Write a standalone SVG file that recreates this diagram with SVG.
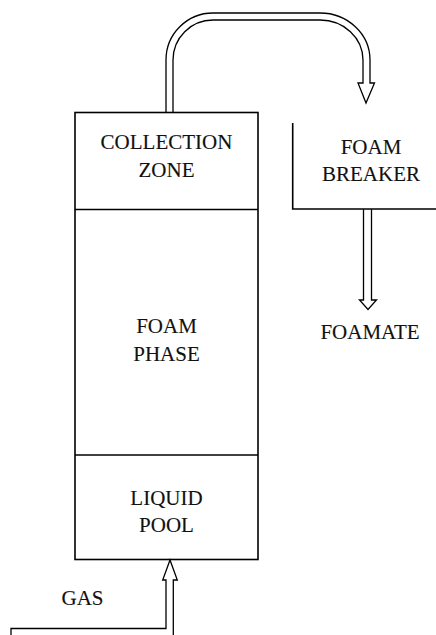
<svg xmlns="http://www.w3.org/2000/svg" width="436" height="635" viewBox="0 0 436 635">
<style>
.ln{fill:none;stroke:#000;stroke-width:1.6}
.pipe{fill:#fff;stroke:#000;stroke-width:1.3;stroke-linejoin:miter}
.t{font-family:'Liberation Serif','Times New Roman',serif;font-size:21px;fill:#111;stroke:#111;stroke-width:0.12;text-anchor:middle}
</style>
<rect width="436" height="635" fill="#fff"/>
<g id="connectors">
<path class="pipe" d="M166,112.5 L166,60 A47,47 0 0 1 213,13 L320,13 A50,47 0 0 1 370,60 L370,83 L374.5,83 L366,103 L358,83 L363,83 L363,60 A43,40 0 0 0 320,20 L213,20 A40,40 0 0 0 173,60 L173,112.5"/>
<path class="pipe" d="M363.5,209 L363.5,300 L359.5,300 L368,309.5 L376.5,300 L371.5,300 L371.5,209"/>
<path class="pipe" d="M173.3,636 L173.3,580 L177.3,580 L170,560 L162.7,580 L166,580 L166,628.5 L11,628.5 L11,636"/>
</g>
<g id="column">
<rect class="ln" x="75" y="112.5" width="183" height="447"/>
</g>
<g id="collection-zone">
<line class="ln" x1="75" y1="209.5" x2="258" y2="209.5"/>
<text class="t" x="166.5" y="148.5">COLLECTION</text>
<text class="t" x="166.5" y="177">ZONE</text>
</g>
<g id="foam-phase">
<text class="t" x="166.5" y="332.5">FOAM</text>
<text class="t" x="166.5" y="361">PHASE</text>
</g>
<g id="liquid-pool">
<line class="ln" x1="75" y1="455" x2="258" y2="455"/>
<text class="t" x="166.5" y="504.5">LIQUID</text>
<text class="t" x="166.5" y="532">POOL</text>
</g>
<g id="foam-breaker">
<path class="ln" d="M292.7,123 L292.7,209 L436,209"/>
<text class="t" x="371" y="153.5">FOAM</text>
<text class="t" x="371" y="181">BREAKER</text>
</g>
<g id="foamate">
<text class="t" x="370" y="338.5">FOAMATE</text>
</g>
<g id="gas">
<text class="t" x="82.5" y="605">GAS</text>
</g>
</svg>
